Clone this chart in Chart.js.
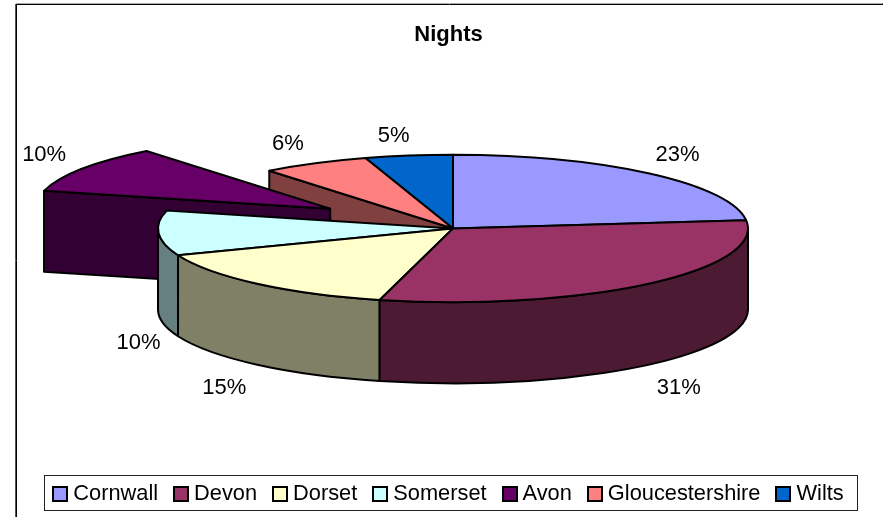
<!DOCTYPE html>
<html><head><meta charset="utf-8">
<style>html,body{margin:0;padding:0;background:#fff}#w{width:883px;height:517px;position:relative}</style>
<script src="https://cdn.jsdelivr.net/npm/chart.js@4"></script>
</head><body><div id="w"><canvas id="c" width="883" height="517"></canvas></div>
<script>
const categories = ['Cornwall','Devon','Dorset','Somerset','Avon','Gloucestershire','Wilts'];
const nights = [23.2,30.8,15.1,9.8,10.4,5.9,4.8];
const topColors = ['#9999FF','#993366','#FFFFCC','#CCFFFF','#660066','#FF8080','#0066CC'];
const sideColors = ['#4D4D80','#4D1A33','#808066','#668080','#330033','#804040','#003366'];
const explodedIndex = 4;
const labelNudges = [[28,-19],[32,23],[-33,23],[-20,29],[-38,-14],[-27,-19],[-15,-20]];

const FONT = '"Liberation Sans", Arial, sans-serif';
const G = {cx:453, cy:228.5, R:295, k:0.25, depth:81, explode:146, line:2};

const pie3d = {
  id:'pie3d',
  beforeDatasetDraw(chart){
    const ctx = chart.ctx, arcs = chart.getDatasetMeta(0).data;
    const ry = G.R*G.k;
    const offs = i=>{
      if(i!==explodedIndex) return [0,0];
      const m=(arcs[i].startAngle+arcs[i].endAngle)/2;
      return [G.explode*Math.cos(m), G.explode*Math.sin(m)*G.k];
    };
    const face = (x,y,a)=>{
      const px=x+G.R*Math.cos(a), py=y+ry*Math.sin(a);
      ctx.beginPath();ctx.moveTo(x,y);ctx.lineTo(px,py);ctx.lineTo(px,py+G.depth);ctx.lineTo(x,y+G.depth);ctx.closePath();
      ctx.fill();ctx.stroke();
    };
    const order=[0];for(let i=arcs.length-1;i>0;i--)order.push(i);
    ctx.save();
    ctx.lineWidth=G.line;ctx.strokeStyle='#000';ctx.lineJoin='round';
    for(const i of order){
      const el=arcs[i],[ox,oy]=offs(i),x=G.cx+ox,y=G.cy+oy;
      ctx.fillStyle=sideColors[i];
      // radial faces exposed by the exploded slice
      if(i===explodedIndex) face(x,y,el.startAngle);
      if(i===explodedIndex+1) face(x,y,el.startAngle);
      // outer wall: only the part that faces the viewer
      const a=Math.max(el.startAngle,0), b=Math.min(el.endAngle,Math.PI);
      if(b>a){
        ctx.beginPath();
        ctx.ellipse(x,y,G.R,ry,0,a,b,false);
        ctx.ellipse(x,y+G.depth,G.R,ry,0,b,a,true);
        ctx.closePath();ctx.fill();ctx.stroke();
      }
      // top surface through the library's arc element
      ctx.save();
      ctx.translate(x,y);ctx.scale(1,G.k);ctx.translate(-el.x,-el.y);
      el.draw(ctx);
      ctx.restore();
      ctx.beginPath();
      ctx.moveTo(x,y);
      ctx.ellipse(x,y,G.R,ry,0,el.startAngle,el.endAngle,false);
      ctx.closePath();ctx.stroke();
    }
    // percentage labels
    const total=nights.reduce((s,v)=>s+v,0);
    ctx.fillStyle='#000';ctx.font='22px '+FONT;ctx.textAlign='center';ctx.textBaseline='middle';
    arcs.forEach((el,i)=>{
      const m=(el.startAngle+el.endAngle)/2,[ox,oy]=offs(i);
      const sin=Math.sin(m);
      const lx=G.cx+ox+G.R*Math.cos(m)+labelNudges[i][0];
      const ly=G.cy+oy+ry*sin+(sin>0?G.depth:0)+labelNudges[i][1];
      ctx.fillText(Math.round(nights[i]/total*100)+'%',lx,ly);
    });
    ctx.restore();
    return false;
  },
  afterDraw(chart){
    const ctx=chart.ctx, hb=chart.legend.legendHitBoxes, items=chart.legend.legendItems;
    ctx.save();
    // chart frame: only top and left edges are in view
    ctx.lineWidth=1;
    ctx.strokeStyle='#aaa';ctx.beginPath();ctx.moveTo(16,3.5);ctx.lineTo(883,3.5);ctx.stroke();
    ctx.strokeStyle='#555';ctx.beginPath();ctx.moveTo(15.5,4);ctx.lineTo(15.5,517);ctx.stroke();
    ctx.strokeStyle='#000';ctx.beginPath();ctx.moveTo(16,4.5);ctx.lineTo(883,4.5);ctx.moveTo(16.5,4);ctx.lineTo(16.5,517);ctx.stroke();
    // legend frame
    const first=hb[0], last=hb[hb.length-1];
    const L=Math.round(first.left)-8.5, Rr=Math.round(last.left+last.width)+13.5;
    const midY=first.top+first.height/2;
    ctx.strokeStyle='#222';ctx.strokeRect(L,475.5,Rr-L,35);
    // legend swatches
    ctx.lineWidth=2;ctx.strokeStyle='#000';
    hb.forEach((h,i)=>{
      ctx.fillStyle=items[i].fillStyle;
      ctx.fillRect(Math.round(h.left),Math.round(midY)-7,14,14);
      ctx.strokeRect(Math.round(h.left),Math.round(midY)-7,14,14);
    });
    ctx.restore();
  }
};

new Chart(document.getElementById('c'),{
  type:'pie',
  data:{labels:categories,datasets:[{data:nights,backgroundColor:topColors,borderWidth:0,radius:G.R}]},
  plugins:[pie3d],
  options:{
    responsive:false,animation:false,
    layout:{padding:{left:14,right:0,top:22,bottom:2}},
    events:[],
    plugins:{
      tooltip:{enabled:false},
      title:{display:true,text:'Nights',color:'#000',font:{family:FONT,size:22,weight:'bold'},padding:{top:0,bottom:10}},
      legend:{position:'bottom',labels:{color:'#000',font:{family:FONT,size:21.8},boxWidth:9.1,boxHeight:9,padding:16}}
    }
  }
});
</script></body></html>
